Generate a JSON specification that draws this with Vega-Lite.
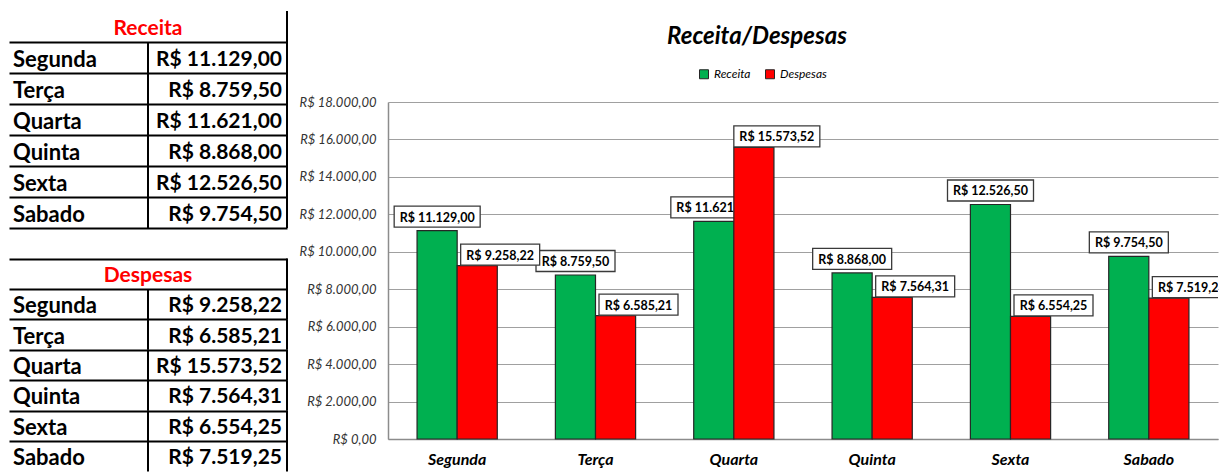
{
  "$schema": "https://vega.github.io/schema/vega-lite/v6.json",
  "background": "white",
  "padding": {"left": 9, "top": 11, "right": 5, "bottom": 0},
  "bounds": "flush",
  "spacing": 101,
  "datasets": {
    "dados": [
      {"serie": "Receita", "dia": "Segunda", "valor": 11129.00},
      {"serie": "Receita", "dia": "Terça", "valor": 8759.50},
      {"serie": "Receita", "dia": "Quarta", "valor": 11621.00},
      {"serie": "Receita", "dia": "Quinta", "valor": 8868.00},
      {"serie": "Receita", "dia": "Sexta", "valor": 12526.50},
      {"serie": "Receita", "dia": "Sabado", "valor": 9754.50},
      {"serie": "Despesas", "dia": "Segunda", "valor": 9258.22},
      {"serie": "Despesas", "dia": "Terça", "valor": 6585.21},
      {"serie": "Despesas", "dia": "Quarta", "valor": 15573.52},
      {"serie": "Despesas", "dia": "Quinta", "valor": 7564.31},
      {"serie": "Despesas", "dia": "Sexta", "valor": 6554.25},
      {"serie": "Despesas", "dia": "Sabado", "valor": 7519.25}
    ],
    "cabecalhos": [
      {"serie": "Receita", "dia": "Título"},
      {"serie": "Despesas", "dia": "Título"}
    ]
  },
  "hconcat": [
    {
      "width": 278,
      "height": 337,
      "resolve": {"scale": {"y": "independent"}, "axis": {"y": "independent"}},
      "layer": [
        {
          "encoding": {
            "x": {"datum": 1, "type": "quantitative", "scale": {"domain": [0, 2], "nice": false, "zero": false}, "axis": null},
            "y": {
              "field": "dia", "type": "nominal",
              "scale": {"domain": ["Título", "Segunda", "Terça", "Quarta", "Quinta", "Sexta", "Sabado"], "range": [-91, 126], "paddingInner": 0, "paddingOuter": 0},
              "axis": {"grid": true, "tickBand": "extent", "values": ["Segunda", "Terça", "Quarta", "Quinta", "Sexta", "Sabado"], "labels": false, "ticks": false, "domain": false, "title": null, "gridColor": "black", "gridWidth": 2, "gridOpacity": 1}
            }
          },
          "layer": [
            {
              "data": {"name": "dados"},
              "transform": [{"filter": "datum.serie === 'Receita'"}],
              "mark": {"type": "tick", "orient": "vertical", "size": 31, "thickness": 2, "color": "black", "opacity": 1},
              "encoding": {"x": {"datum": 1, "type": "quantitative", "axis": null}}
            },
            {
              "data": {"name": "dados"},
              "transform": [{"filter": "datum.serie === 'Receita'"}],
              "mark": {"type": "tick", "orient": "vertical", "size": 31, "thickness": 2, "color": "black", "opacity": 1},
              "encoding": {"x": {"datum": 2, "type": "quantitative", "axis": null}}
            },
            {
              "data": {"name": "cabecalhos"},
              "transform": [{"filter": "datum.serie === 'Receita'"}],
              "mark": {"type": "tick", "orient": "vertical", "size": 31, "thickness": 2, "color": "black", "opacity": 1},
              "encoding": {"x": {"datum": 2, "type": "quantitative", "axis": null}}
            },
            {
              "data": {"name": "dados"},
              "transform": [{"filter": "datum.serie === 'Receita'"}],
              "mark": {"type": "text", "align": "left", "baseline": "middle", "dx": 4, "dy": 2, "font": "Lato", "fontSize": 22, "fontWeight": "bold", "color": "black"},
              "encoding": {"x": {"datum": 0, "type": "quantitative", "axis": null}, "text": {"field": "dia", "type": "nominal"}}
            },
            {
              "data": {"name": "dados"},
              "transform": [{"filter": "datum.serie === 'Receita'"}],
              "mark": {"type": "text", "align": "right", "baseline": "middle", "dx": -5, "dy": 2, "font": "Lato", "fontSize": 21, "fontWeight": "bold", "color": "black"},
              "encoding": {"x": {"datum": 2, "type": "quantitative", "axis": null}, "text": {"field": "valor", "type": "quantitative", "format": "$,.2f"}}
            },
            {
              "data": {"name": "cabecalhos"},
              "transform": [{"filter": "datum.serie === 'Receita'"}],
              "mark": {"type": "text", "align": "center", "baseline": "middle", "dy": 2, "font": "Lato", "fontSize": 21, "fontWeight": "bold", "color": "#ff0000"},
              "encoding": {"text": {"field": "serie", "type": "nominal"}}
            }
          ]
        },
        {
          "encoding": {
            "x": {"datum": 1, "type": "quantitative", "scale": {"domain": [0, 2], "nice": false, "zero": false}, "axis": null},
            "y": {
              "field": "dia", "type": "nominal",
              "scale": {"domain": ["Título", "Segunda", "Terça", "Quarta", "Quinta", "Sexta", "Sabado"], "range": [156.5, 369.5], "paddingInner": 0, "paddingOuter": 0},
              "axis": {"grid": true, "tickBand": "extent", "values": ["Título", "Segunda", "Terça", "Quarta", "Quinta", "Sexta"], "labels": false, "ticks": false, "domain": false, "title": null, "gridColor": "black", "gridWidth": 2, "gridOpacity": 1}
            }
          },
          "layer": [
            {
              "data": {"name": "dados"},
              "transform": [{"filter": "datum.serie === 'Despesas'"}],
              "mark": {"type": "tick", "orient": "vertical", "size": 30.43, "thickness": 2, "color": "black", "opacity": 1},
              "encoding": {"x": {"datum": 1, "type": "quantitative", "axis": null}}
            },
            {
              "data": {"name": "dados"},
              "transform": [{"filter": "datum.serie === 'Despesas'"}],
              "mark": {"type": "tick", "orient": "vertical", "size": 30.43, "thickness": 2, "color": "black", "opacity": 1},
              "encoding": {"x": {"datum": 2, "type": "quantitative", "axis": null}}
            },
            {
              "data": {"name": "cabecalhos"},
              "transform": [{"filter": "datum.serie === 'Despesas'"}],
              "mark": {"type": "tick", "orient": "vertical", "size": 30.43, "thickness": 2, "color": "black", "opacity": 1},
              "encoding": {"x": {"datum": 2, "type": "quantitative", "axis": null}}
            },
            {
              "data": {"name": "dados"},
              "transform": [{"filter": "datum.serie === 'Despesas'"}],
              "mark": {"type": "text", "align": "left", "baseline": "middle", "dx": 4, "dy": 2, "font": "Lato", "fontSize": 22, "fontWeight": "bold", "color": "black"},
              "encoding": {"x": {"datum": 0, "type": "quantitative", "axis": null}, "text": {"field": "dia", "type": "nominal"}}
            },
            {
              "data": {"name": "dados"},
              "transform": [{"filter": "datum.serie === 'Despesas'"}],
              "mark": {"type": "text", "align": "right", "baseline": "middle", "dx": -5, "dy": 2, "font": "Lato", "fontSize": 21, "fontWeight": "bold", "color": "black"},
              "encoding": {"x": {"datum": 2, "type": "quantitative", "axis": null}, "text": {"field": "valor", "type": "quantitative", "format": "$,.2f"}}
            },
            {
              "data": {"name": "cabecalhos"},
              "transform": [{"filter": "datum.serie === 'Despesas'"}],
              "mark": {"type": "text", "align": "center", "baseline": "middle", "dy": 2, "font": "Lato", "fontSize": 21, "fontWeight": "bold", "color": "#ff0000"},
              "encoding": {"text": {"field": "serie", "type": "nominal"}}
            }
          ]
        }
      ]
    },
    {
      "width": 830,
      "height": 337,
      "title": {"text": "Receita/Despesas", "font": "Lato", "fontSize": 24, "fontWeight": "bold", "fontStyle": "italic", "color": "black", "anchor": "middle", "dx": -46, "offset": 47},
      "data": {"name": "dados"},
      "encoding": {
        "x": {
          "field": "dia", "type": "nominal", "sort": ["Segunda", "Terça", "Quarta", "Quinta", "Sexta", "Sabado"],
          "scale": {"domain": ["Segunda", "Terça", "Quarta", "Quinta", "Sexta", "Sabado"], "paddingInner": 0.42, "paddingOuter": 0.21},
          "axis": {"title": null, "ticks": false, "labelAngle": 0, "labelFont": "Lato", "labelFontSize": 16, "labelFontWeight": "bold", "labelFontStyle": "italic", "labelColor": "black", "labelPadding": 12, "domainColor": "#8c8c8c", "domainWidth": 1.5}
        },
        "y": {
          "field": "valor", "type": "quantitative",
          "scale": {"domain": [0, 18000], "nice": false},
          "axis": {"title": null, "values": [0, 2000, 4000, 6000, 8000, 10000, 12000, 14000, 16000, 18000], "format": "$,.2f", "ticks": false, "labelPadding": 12, "labelFont": "Lato", "labelFontSize": 13, "labelFontStyle": "italic", "labelColor": "#333333", "gridColor": "#a0a0a0", "gridWidth": 1, "domainColor": "#8c8c8c", "domainWidth": 1.5}
        }
      },
      "layer": [
        {
          "transform": [{"filter": "datum.serie === 'Receita'"}],
          "mark": {"type": "bar", "stroke": "#262626", "strokeWidth": 1.2},
          "encoding": {
            "xOffset": {"field": "serie", "type": "nominal", "scale": {"domain": ["Receita", "Despesas"], "paddingInner": 0, "paddingOuter": 0}},
            "color": {"field": "serie", "type": "nominal", "scale": {"domain": ["Receita", "Despesas"], "range": ["#00b050", "#ff0000"]},
              "legend": {"orient": "none", "legendX": 689, "legendY": -34, "direction": "horizontal", "title": null, "padding": 0, "symbolType": "square", "symbolSize": 81, "symbolStrokeColor": "#333333", "symbolStrokeWidth": 1, "labelFont": "Lato", "labelFontStyle": "italic", "labelFontSize": 12, "labelColor": "black", "columnPadding": 12, "labelOffset": 4}}
          }
        },
        {
          "transform": [{"filter": "datum.serie === 'Receita'"}],
          "mark": {"type": "point", "filled": true, "fill": "white", "stroke": "#3a3a3a", "strokeWidth": 1.3, "opacity": 1, "size": 10000, "xOffset": -20, "yOffset": -14},
          "encoding": {
            "shape": {"condition": {"test": "datum.valor >= 10000", "value": "M-0.86,-0.21H0.86V0.21H-0.86Z"}, "value": "M-0.79,-0.21H0.79V0.21H-0.79Z"}
          }
        },
        {
          "transform": [{"filter": "datum.serie === 'Receita'"}],
          "mark": {"type": "text", "font": "Lato", "fontSize": 12.5, "fontWeight": "bold", "color": "black", "baseline": "middle", "xOffset": -20, "yOffset": -13},
          "encoding": {"text": {"field": "valor", "type": "quantitative", "format": "$,.2f"}}
        },
        {
          "transform": [{"filter": "datum.serie === 'Despesas'"}],
          "mark": {"type": "bar", "stroke": "#262626", "strokeWidth": 1.2},
          "encoding": {
            "xOffset": {"field": "serie", "type": "nominal", "scale": {"domain": ["Receita", "Despesas"], "paddingInner": 0, "paddingOuter": 0}},
            "color": {"field": "serie", "type": "nominal", "scale": {"domain": ["Receita", "Despesas"], "range": ["#00b050", "#ff0000"]}}
          }
        },
        {
          "transform": [{"filter": "datum.serie === 'Despesas'"}],
          "mark": {"type": "point", "filled": true, "fill": "white", "stroke": "#3a3a3a", "strokeWidth": 1.3, "opacity": 1, "size": 10000, "xOffset": 43, "yOffset": -11, "clip": true},
          "encoding": {
            "shape": {"condition": {"test": "datum.valor >= 10000", "value": "M-0.86,-0.21H0.86V0.21H-0.86Z"}, "value": "M-0.79,-0.21H0.79V0.21H-0.79Z"}
          }
        },
        {
          "transform": [{"filter": "datum.serie === 'Despesas'"}],
          "mark": {"type": "text", "font": "Lato", "fontSize": 12.5, "fontWeight": "bold", "color": "black", "baseline": "middle", "xOffset": 43, "yOffset": -10, "clip": true},
          "encoding": {"text": {"field": "valor", "type": "quantitative", "format": "$,.2f"}}
        }
      ]
    }
  ],
  "config": {
    "font": "Lato",
    "view": {"stroke": null},
    "locale": {"number": {"decimal": ",", "thousands": ".", "grouping": [3], "currency": ["R$ ", ""]}}
  }
}
